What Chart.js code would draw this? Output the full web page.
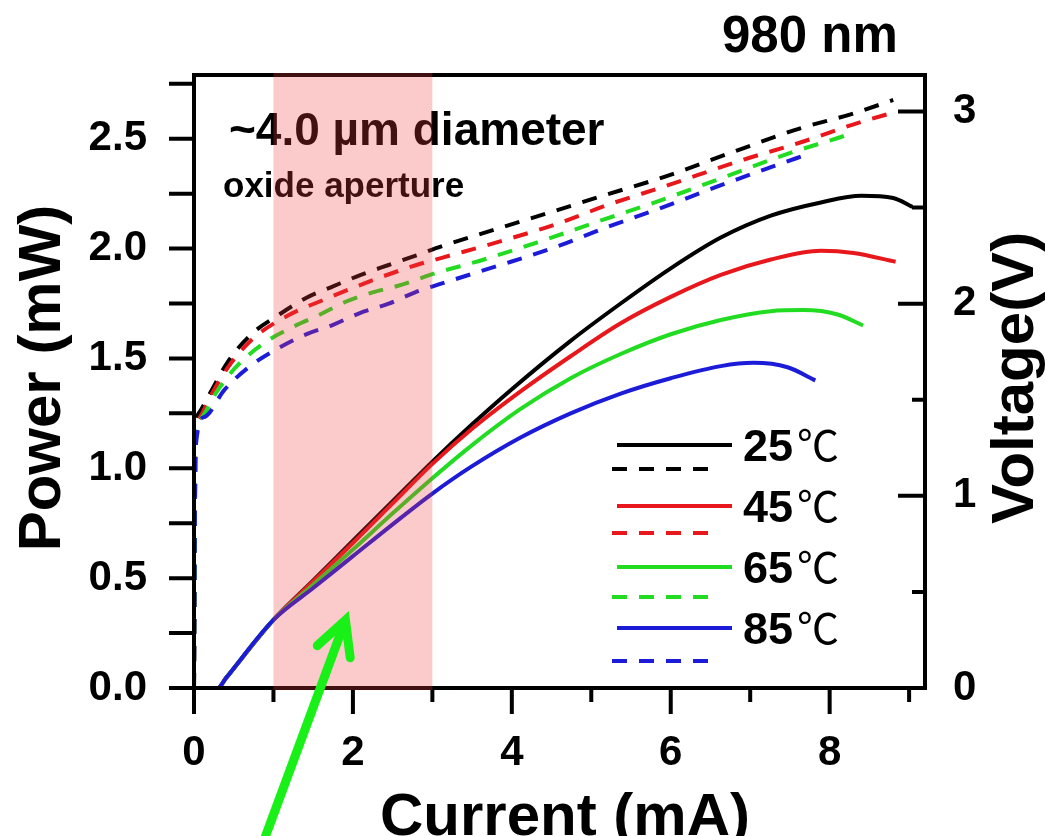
<!DOCTYPE html>
<html>
<head>
<meta charset="utf-8">
<script src="https://cdn.jsdelivr.net/npm/chart.js@4.4.1/dist/chart.umd.min.js"></script>
<style>
html, body { margin: 0; padding: 0; background: #fff; }
#contenedor { width: 1045px; height: 836px; position: relative; }
</style>
</head>
<body>
<div id="contenedor"><canvas id="vcsel"></canvas></div>
<script>
// temperaturas y colores de cada curva
const temperaturas = ['25', '45', '65', '85'];
const colores = ['#000000', '#e8171c', '#22dc22', '#1c1cd8'];

// potencia optica (mW) vs corriente (mA)
const corrienteP25 = [0, 0.3, 0.4, 1, 1.5, 2, 2.5, 3, 3.5, 4, 4.74, 5.37, 6.0, 6.63, 7.26, 7.89, 8.4, 8.8, 9.04];
const potencia25   = [0, 0, 0.044, 0.31, 0.49, 0.67, 0.85, 1.03, 1.20, 1.36, 1.58, 1.75, 1.91, 2.05, 2.15, 2.21, 2.24, 2.23, 2.19];
const corrienteP45 = [0, 0.3, 0.4, 1, 1.5, 2, 2.5, 3, 3.5, 4.11, 4.74, 5.37, 6.0, 6.63, 7.26, 7.89, 8.3, 8.83];
const potencia45   = [0, 0, 0.044, 0.31, 0.485, 0.66, 0.84, 1.02, 1.18, 1.35, 1.51, 1.66, 1.78, 1.88, 1.95, 1.99, 1.98, 1.94];
const corrienteP65 = [0, 0.3, 0.4, 1, 1.5, 2, 2.5, 3, 3.48, 4.11, 4.74, 5.37, 6.0, 6.63, 7.26, 7.67, 8.1, 8.42];
const potencia65   = [0, 0, 0.044, 0.31, 0.47, 0.63, 0.795, 0.955, 1.10, 1.27, 1.41, 1.52, 1.61, 1.675, 1.715, 1.72, 1.70, 1.65];
const corrienteP85 = [0, 0.3, 0.4, 1, 1.5, 2, 2.5, 3, 3.48, 4.11, 4.74, 5.37, 6.0, 6.63, 7.04, 7.47, 7.82];
const potencia85   = [0, 0, 0.044, 0.31, 0.455, 0.60, 0.745, 0.885, 1.005, 1.14, 1.25, 1.34, 1.41, 1.465, 1.48, 1.46, 1.40];

// voltaje (V) vs corriente (mA)
const corrienteV25 = [0, 0.02, 0.06, 0.21, 0.43, 0.72, 1.06, 1.41, 1.75, 2.10, 2.44, 2.79, 3.13, 3.82, 4.52, 5.21, 5.92, 6.92, 7.61, 8.30, 8.8];
const voltaje25    = [0, 1.30, 1.43, 1.54, 1.70, 1.84, 1.94, 2.03, 2.09, 2.15, 2.20, 2.25, 2.30, 2.39, 2.48, 2.57, 2.66, 2.81, 2.91, 2.99, 3.06];
const corrienteV45 = [0, 0.02, 0.06, 0.21, 0.43, 0.72, 1.1, 1.75, 2.3, 2.79, 3.13, 3.82, 4.53, 5.25, 5.92, 6.92, 7.64, 8.35, 8.85];
const voltaje45    = [0, 1.28, 1.40, 1.52, 1.67, 1.81, 1.92, 2.04, 2.13, 2.20, 2.24, 2.32, 2.41, 2.52, 2.61, 2.75, 2.84, 2.94, 3.00];
const corrienteV65 = [0, 0.02, 0.08, 0.3, 0.55, 0.9, 1.25, 1.57, 1.91, 2.26, 2.63, 2.97, 3.65, 4.33, 5.03, 5.75, 6.75, 7.47, 8.16, 8.3];
const voltaje65    = [0, 1.25, 1.40, 1.55, 1.68, 1.80, 1.88, 1.94, 2.01, 2.06, 2.10, 2.15, 2.23, 2.32, 2.42, 2.52, 2.67, 2.78, 2.87, 2.89];
const corrienteV85 = [0, 0.02, 0.13, 0.38, 0.69, 1.07, 1.41, 1.75, 2.08, 2.45, 2.79, 3.08, 3.77, 4.52, 5.21, 5.89, 6.59, 7.26, 7.74];
const voltaje85    = [0, 1.25, 1.41, 1.55, 1.67, 1.77, 1.84, 1.89, 1.95, 2.00, 2.06, 2.10, 2.19, 2.29, 2.40, 2.50, 2.61, 2.71, 2.78];

// ticks con etiqueta y ticks menores
const ticksCorriente = [0, 2, 4, 6, 8];
const ticksCorrienteMenor = [1, 3, 5, 7, 9];
const ticksPotencia = [0, 0.5, 1.0, 1.5, 2.0, 2.5];
const ticksPotenciaMenor = [0.25, 0.75, 1.25, 1.75, 2.25, 2.75];
const ticksVoltaje = [0, 1, 2, 3];
const ticksVoltajeMenor = [0.5, 1.5, 2.5];

// zona sombreada (mA) y flecha [mA, mW]
const bandaCorriente = [1, 3];
const flechaCola = [0.874, -0.70];
const flechaPunta = [1.906, 0.309];

const FUENTE = "'Liberation Sans', Arial, sans-serif";

function puntos(xs, ys) {
    return xs.map((x, i) => ({ x: x, y: ys[i] }));
}

const potencias = [[corrienteP25, potencia25], [corrienteP45, potencia45], [corrienteP65, potencia65], [corrienteP85, potencia85]];
const voltajes = [[corrienteV25, voltaje25], [corrienteV45, voltaje45], [corrienteV65, voltaje65], [corrienteV85, voltaje85]];

// el 85 queda encima (chart.js dibuja del ultimo dataset al primero)
const datasets = [];
for (let i = temperaturas.length - 1; i >= 0; i--) {
    datasets.push({
        label: temperaturas[i] + ' V',
        data: puntos(voltajes[i][0], voltajes[i][1]),
        yAxisID: 'y1',
        borderColor: colores[i],
        borderWidth: 4,
        borderDash: [15, 12],
        pointRadius: 0,
        cubicInterpolationMode: 'monotone'
    });
    datasets.push({
        label: temperaturas[i] + ' P',
        data: puntos(potencias[i][0], potencias[i][1]),
        yAxisID: 'y',
        borderColor: colores[i],
        borderWidth: 4,
        pointRadius: 0,
        cubicInterpolationMode: 'monotone'
    });
}

function fijarTicks(valores) {
    return (scale) => { scale.ticks = valores.map(v => ({ value: v })); };
}

// marco, ticks, textos, leyenda, banda y flecha
const extras = {
    id: 'extras',
    afterDatasetsDraw(chart) {
        const { ctx, chartArea: a, scales } = chart;
        const sx = scales.x, sy = scales.y, sy1 = scales.y1;
        ctx.save();

        ctx.strokeStyle = '#000';
        ctx.lineWidth = 4;
        ctx.strokeRect(a.left, a.top, a.right - a.left, a.bottom - a.top);

        ctx.beginPath();
        ticksCorriente.forEach(v => { const p = sx.getPixelForValue(v); ctx.moveTo(p, a.bottom); ctx.lineTo(p, a.bottom + 26); });
        ticksCorrienteMenor.forEach(v => { const p = sx.getPixelForValue(v); ctx.moveTo(p, a.bottom); ctx.lineTo(p, a.bottom + 14); });
        ticksPotencia.concat(ticksPotenciaMenor).forEach(v => { const p = sy.getPixelForValue(v); ctx.moveTo(a.left - 25, p); ctx.lineTo(a.left, p); });
        ticksVoltaje.forEach(v => { const p = sy1.getPixelForValue(v); ctx.moveTo(a.right - 27, p); ctx.lineTo(a.right, p); });
        ticksVoltajeMenor.forEach(v => { const p = sy1.getPixelForValue(v); ctx.moveTo(a.right - 13, p); ctx.lineTo(a.right, p); });
        ctx.stroke();

        // textos del grafico
        ctx.fillStyle = '#000';
        ctx.textAlign = 'left';
        ctx.textBaseline = 'alphabetic';
        ctx.font = 'bold 46px ' + FUENTE;
        ctx.fillText('~4.0 \u00b5m diameter', 229, 145);
        ctx.font = 'bold 35px ' + FUENTE;
        ctx.fillText('oxide aperture', 223, 197);

        // leyenda
        for (let i = 0; i < temperaturas.length; i++) {
            const yl = 445 + 61 * i;
            const yd = 469 + 64 * i;
            ctx.strokeStyle = colores[i];
            ctx.lineWidth = 4;
            ctx.setLineDash([]);
            ctx.beginPath(); ctx.moveTo(617, yl); ctx.lineTo(732, yl); ctx.stroke();
            ctx.setLineDash([15, 12]);
            ctx.beginPath(); ctx.moveTo(612, yd); ctx.lineTo(710, yd); ctx.stroke();
            ctx.setLineDash([]);
            ctx.fillStyle = '#000';
            ctx.font = 'bold 45px ' + FUENTE;
            ctx.fillText(temperaturas[i], 743, yl + 16);
            ctx.font = "42px 'Noto Sans CJK SC', 'DejaVu Sans', sans-serif";
            ctx.fillText('\u2103', 797, yl + 16);
        }

        // banda rosa encima de todo
        const b1 = sx.getPixelForValue(bandaCorriente[0]);
        const b2 = sx.getPixelForValue(bandaCorriente[1]);
        ctx.fillStyle = 'rgba(240, 60, 60, 0.27)';
        ctx.fillRect(b1, a.top - 2, b2 - b1, a.bottom - a.top + 4);

        // flecha verde
        const cx = sx.getPixelForValue(flechaCola[0]), cy = sy.getPixelForValue(flechaCola[1]);
        const px = sx.getPixelForValue(flechaPunta[0]), py = sy.getPixelForValue(flechaPunta[1]);
        const ang = Math.atan2(cy - py, cx - px);
        ctx.strokeStyle = '#18f018';
        ctx.lineWidth = 9;
        ctx.lineCap = 'round';
        ctx.beginPath();
        ctx.moveTo(cx, cy); ctx.lineTo(px, py);
        ctx.moveTo(px + 38 * Math.cos(ang + 0.48), py + 38 * Math.sin(ang + 0.48));
        ctx.lineTo(px, py);
        ctx.lineTo(px + 38 * Math.cos(ang - 0.48), py + 38 * Math.sin(ang - 0.48));
        ctx.stroke();
        ctx.restore();
    },
    afterDraw(chart) {
        const { ctx } = chart;
        ctx.save();
        ctx.fillStyle = '#000';
        ctx.textBaseline = 'alphabetic';
        ctx.font = 'bold 51px ' + FUENTE;
        ctx.textAlign = 'left';
        ctx.fillText('980 nm', 722, 52);

        ctx.font = 'bold 60px ' + FUENTE;
        ctx.textAlign = 'center';
        ctx.fillText('Current (mA)', 565, 835);

        // titulos verticales, los dos leen de abajo hacia arriba
        ctx.translate(60, 378);
        ctx.rotate(-Math.PI / 2);
        ctx.fillText('Power (mW)', 0, 0);
        ctx.setTransform(1, 0, 0, 1, 0, 0);
        ctx.translate(1033, 378);
        ctx.rotate(-Math.PI / 2);
        ctx.fillText('Voltage(V)', 0, 0);
        ctx.restore();
    }
};

const fuenteTicks = { family: FUENTE, size: 42, weight: 'bold' };

(() => {
    const lienzo = document.getElementById('vcsel');
    window.grafico = new Chart(lienzo, {
        type: 'line',
        data: { datasets: datasets },
        plugins: [extras],
        options: {
            responsive: true,
            maintainAspectRatio: false,
            animation: false,
            layout: { padding: { top: 75, left: 0, right: 0, bottom: 0 } },
            plugins: { legend: { display: false }, tooltip: { enabled: false } },
            scales: {
                x: {
                    type: 'linear',
                    min: 0,
                    max: 9.2,
                    afterBuildTicks: fijarTicks(ticksCorriente),
                    afterFit: (s) => { s.height = 148; },
                    grid: { display: false, drawTicks: false },
                    border: { display: false },
                    ticks: { font: fuenteTicks, color: '#000', padding: 40, maxRotation: 0 }
                },
                y: {
                    position: 'left',
                    min: 0,
                    max: 2.79,
                    afterBuildTicks: fijarTicks(ticksPotencia),
                    afterFit: (s) => { s.width = 194; },
                    grid: { display: false, drawTicks: false },
                    border: { display: false },
                    ticks: { font: fuenteTicks, color: '#000', padding: 47, callback: (v) => v.toFixed(1) }
                },
                y1: {
                    position: 'right',
                    min: 0,
                    max: 3.19,
                    afterBuildTicks: fijarTicks(ticksVoltaje),
                    afterFit: (s) => { s.width = 120; },
                    grid: { display: false, drawTicks: false },
                    border: { display: false },
                    ticks: { font: fuenteTicks, color: '#000', padding: 28 }
                }
            }
        }
    });
})();
</script>
</body>
</html>
